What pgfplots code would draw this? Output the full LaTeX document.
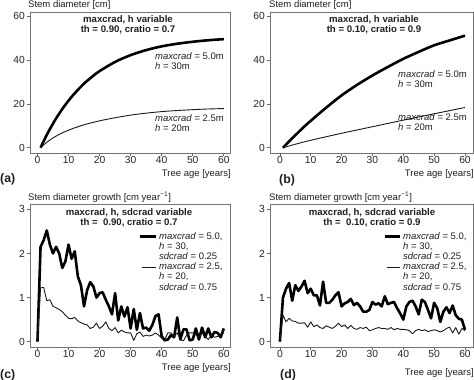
\documentclass[border=0pt]{standalone}
\usepackage{fontspec}
\setmainfont{Liberation Sans}
\usepackage{pgfplots}
\pgfplotsset{compat=1.18}
\tikzset{
  thick line/.style={black, line width=2.6pt, line join=round},
  thin line/.style={black!90, line width=0.9pt, line join=round},
}
\pgfplotsset{
  panel/.style={
    scale only axis, anchor=south west,
    axis line style={draw=black!55, line width=0.8pt},
    tick align=outside, major tick length=3pt,
    tick pos=left,
    every tick/.style={draw=black!60, line width=0.7pt},
    tick label style={font=\fontsize{10.3}{12}\selectfont, text=black!85, inner sep=1pt},
    /pgf/number format/assume math mode=true,
    xtick={0,10,...,60},
    xticklabel style={yshift=1pt},
    yticklabel style={xshift=-1pt},
  },
}
\newcommand{\lab}{\fontsize{9.5}{11}\selectfont}
\newcommand{\ttl}{\fontsize{9.6}{11}\selectfont\bfseries}
\begin{document}
\begin{tikzpicture}
\useasboundingbox (0pt,0pt) rectangle (474pt,380pt);
% ---------- (a)
\begin{axis}[panel, at={(30pt,227pt)}, width=200pt, height=141pt,
  xmin=-2.4, xmax=62, ymin=-2.4, ymax=62, ytick={0,20,40,60}]
\addplot[thick line, smooth] coordinates {(1,0) (2,3.0) (3,5.9) (4,8.5) (5,11.0) (6,13.4) (8,17.7) (10,21.5) (12,24.9) (15,29.3) (18,32.9) (20,35.0) (25,39.2) (30,42.3) (35,44.6) (40,46.3) (45,47.5) (50,48.4) (55,49.1) (60,49.6)};
\addplot[thin line, smooth] coordinates {(1,0) (2,1.3) (3,2.5) (4,3.5) (5,4.5) (6,5.3) (8,6.8) (10,8.0) (12,9.1) (15,10.5) (18,11.6) (20,12.3) (25,13.7) (30,14.9) (35,15.8) (40,16.5) (45,17.0) (50,17.4) (55,17.7) (60,17.9)};
\end{axis}
% ---------- (b)
\begin{axis}[panel, at={(270pt,227pt)}, width=203pt, height=141pt,
  xmin=-3.2, xmax=62.6, ymin=-2.4, ymax=62, ytick={0,20,40,60}]
\addplot[thick line, smooth] coordinates {(1,0) (3,2.9) (5,5.7) (8,9.8) (10,12.3) (15,18.3) (20,23.9) (25,28.7) (30,33.0) (35,36.9) (40,40.6) (45,43.8) (50,46.8) (55,49.0) (60,51.2)};
\addplot[thin line, smooth] coordinates {(1,0) (5,1.6) (10,3.4) (20,6.6) (30,9.6) (40,12.6) (50,15.5) (60,18.4)};
\end{axis}
% ---------- (c)
\begin{axis}[panel, at={(30pt,33pt)}, width=200pt, height=143pt,
  xmin=-2.4, xmax=62, ymin=-0.12, ymax=3.12, ytick={0,1,2,3}]
\addplot[thick line] coordinates {(0,0) (1,2.15) (2,2.3) (3,2.52) (4,2.2) (5,2.0) (6,2.15) (7,2.0) (8,1.67) (9,1.82) (10,2.2) (11,1.88) (12,2.05) (13,1.48) (14,1.28) (15,0.8) (16,1.17) (17,1.35) (18,1.25) (19,1.0) (20,1.1) (21,1.12) (22,0.95) (23,0.8) (24,0.62) (25,1.1) (26,0.48) (27,0.8) (28,0.57) (29,0.78) (30,0.3) (31,0.74) (32,0.27) (33,0.65) (34,0.3) (35,0.32) (36,0.25) (37,0.38) (38,0.58) (39,0.62) (40,0.12) (41,0.03) (42,0.05) (43,0.15) (44,0.1) (45,0.55) (46,0.05) (47,0.28) (48,0.28) (49,0.03) (50,0.05) (51,0.3) (52,0.05) (53,0.32) (54,0.1) (55,0.3) (56,0.1) (57,0.22) (58,0.2) (59,0.1) (60,0.3)};
\addplot[thin line] coordinates {(0,0) (1,1.22) (2,1.23) (3,0.93) (4,0.95) (5,0.8) (6,0.77) (7,0.73) (8,0.68) (9,0.6) (10,0.53) (11,0.52) (12,0.55) (13,0.47) (14,0.43) (15,0.4) (16,0.38) (17,0.3) (18,0.33) (19,0.42) (20,0.3) (21,0.35) (22,0.45) (23,0.3) (24,0.25) (25,0.32) (26,0.2) (27,0.26) (28,0.22) (29,0.2) (30,0.2) (31,0.03) (32,0.18) (33,0.22) (34,0.12) (35,0.15) (36,0.13) (37,0.15) (38,0.2) (39,0.15) (40,0.08) (41,0.05) (42,0.2) (43,0.2) (44,0.12) (45,0.2) (46,0.05) (47,0.02) (48,0.15) (49,0.2) (50,0.2) (51,0.15) (52,0.1) (53,0.2) (54,0.12) (55,0.05) (56,0.15) (57,0.1) (58,0.12) (59,0.15) (60,0.2)};
\end{axis}
% ---------- (d)
\begin{axis}[panel, at={(270pt,33pt)}, width=203pt, height=143pt,
  xmin=-3.2, xmax=62.6, ymin=-0.12, ymax=3.12, ytick={0,1,2,3}]
\addplot[thick line] coordinates {(0,0) (1,1.0) (2,1.2) (3,1.33) (4,0.93) (5,1.28) (6,1.15) (7,1.25) (8,1.38) (9,1.1) (10,1.2) (11,1.05) (12,1.05) (13,0.82) (14,1.36) (15,0.88) (16,0.88) (17,0.95) (18,1.05) (19,1.12) (20,0.8) (21,0.87) (22,0.9) (23,0.97) (24,0.83) (25,0.88) (26,0.8) (27,0.68) (28,0.68) (29,0.72) (30,0.9) (31,0.84) (32,0.87) (33,0.8) (34,1.03) (35,0.85) (36,0.88) (37,0.9) (38,0.76) (39,0.64) (40,0.5) (41,0.8) (42,0.9) (43,0.93) (44,0.8) (45,0.62) (46,0.95) (47,0.9) (48,0.72) (49,0.53) (50,0.88) (51,0.76) (52,0.45) (53,0.68) (54,0.78) (55,0.65) (56,0.82) (57,0.6) (58,0.52) (59,0.5) (60,0.27)};
\addplot[thin line] coordinates {(0,0) (1,0.6) (2,0.45) (3,0.53) (4,0.47) (5,0.46) (6,0.42) (7,0.42) (8,0.43) (9,0.33) (10,0.45) (11,0.34) (12,0.38) (13,0.32) (14,0.3) (15,0.36) (16,0.33) (17,0.3) (18,0.35) (19,0.42) (20,0.34) (21,0.38) (22,0.3) (23,0.37) (24,0.3) (25,0.28) (26,0.32) (27,0.3) (28,0.33) (29,0.25) (30,0.27) (31,0.3) (32,0.32) (33,0.3) (34,0.3) (35,0.28) (36,0.32) (37,0.27) (38,0.3) (39,0.28) (40,0.28) (41,0.27) (42,0.25) (43,0.18) (44,0.25) (45,0.28) (46,0.25) (47,0.27) (48,0.23) (49,0.25) (50,0.27) (51,0.25) (52,0.22) (53,0.25) (54,0.3) (55,0.33) (56,0.2) (57,0.32) (58,0.17) (59,0.3) (60,0.25)};
\end{axis}
% ---------- texts
\begin{scope}[every node/.style={inner sep=0pt, text=black!88}]
% axis labels
\node[anchor=west, font=\lab] at (28pt,375pt) {Stem diameter [cm]};
\node[anchor=west, font=\lab] at (269pt,375pt) {Stem diameter [cm]};
\node[anchor=west, font=\lab] at (28pt,183pt) {Stem diameter growth [cm year\textsuperscript{−1}]};
\node[anchor=west, font=\lab] at (269pt,183pt) {Stem diameter growth [cm year\textsuperscript{−1}]};
\node[anchor=east, font=\lab] at (231pt,205.5pt) {Tree age [years]};
\node[anchor=east, font=\lab] at (474pt,205.5pt) {Tree age [years]};
\node[anchor=east, font=\lab] at (231pt,12pt) {Tree age [years]};
\node[anchor=east, font=\lab] at (474pt,7pt) {Tree age [years]};
% panel letters
\node[anchor=west, font=\fontsize{12.3}{14}\selectfont\bfseries] at (0pt,201pt) {(a)};
\node[anchor=west, font=\fontsize{12.3}{14}\selectfont\bfseries] at (279pt,200pt) {(b)};
\node[anchor=west, font=\fontsize{12.3}{14}\selectfont\bfseries] at (0pt,5pt) {(c)};
\node[anchor=west, font=\fontsize{12.3}{14}\selectfont\bfseries] at (280pt,5pt) {(d)};
% titles
\node[font=\ttl] at (128pt,360pt) {maxcrad, h variable};
\node[font=\ttl] at (128pt,350pt) {th = 0.90, cratio = 0.7};
\node[font=\ttl] at (374pt,360pt) {maxcrad, h variable};
\node[font=\ttl] at (374pt,350pt) {th = 0.10, cratio = 0.9};
\node[font=\ttl] at (129pt,167pt) {maxcrad, h, sdcrad variable};
\node[font=\ttl] at (129pt,157pt) {th = \ 0.90, cratio = 0.7};
\node[font=\ttl] at (372pt,167pt) {maxcrad, h, sdcrad variable};
\node[font=\ttl] at (372pt,157pt) {th = \ 0.10, cratio = 0.9};
% annotations (a)
\node[anchor=west, font=\lab] at (155pt,324pt) {\textit{maxcrad} = 5.0m};
\node[anchor=west, font=\lab] at (155pt,314pt) {\textit{h} = 30m};
\node[anchor=west, font=\lab] at (155pt,262pt) {\textit{maxcrad} = 2.5m};
\node[anchor=west, font=\lab] at (155pt,252pt) {\textit{h} = 20m};
% annotations (b)
\node[anchor=west, font=\lab] at (398pt,306pt) {\textit{maxcrad} = 5.0m};
\node[anchor=west, font=\lab] at (398pt,296pt) {\textit{h} = 30m};
\node[anchor=west, font=\lab] at (398pt,263pt) {\textit{maxcrad} = 2.5m};
\node[anchor=west, font=\lab] at (398pt,253pt) {\textit{h} = 20m};
% legend (c)
\draw[thick line] (140pt,143.3pt) -- (156pt,143.3pt);
\draw[thin line] (142pt,113pt) -- (156pt,113pt);
\node[anchor=west, font=\lab] at (159pt,143.3pt) {\textit{maxcrad} = 5.0,};
\node[anchor=west, font=\lab] at (159pt,133.5pt) {\textit{h} = 30,};
\node[anchor=west, font=\lab] at (159pt,123.5pt) {\textit{sdcrad} = 0.25};
\node[anchor=west, font=\lab] at (159pt,113pt) {\textit{maxcrad} = 2.5,};
\node[anchor=west, font=\lab] at (159pt,103pt) {\textit{h} = 20,};
\node[anchor=west, font=\lab] at (159pt,93pt) {\textit{sdcrad} = 0.75};
% legend (d)
\draw[thick line] (385pt,143.3pt) -- (400pt,143.3pt);
\draw[thin line] (387pt,113pt) -- (400pt,113pt);
\node[anchor=west, font=\lab] at (403pt,143.3pt) {\textit{maxcrad} = 5.0,};
\node[anchor=west, font=\lab] at (403pt,133.5pt) {\textit{h} = 30,};
\node[anchor=west, font=\lab] at (403pt,123.5pt) {\textit{sdcrad} = 0.25};
\node[anchor=west, font=\lab] at (403pt,113pt) {\textit{maxcrad} = 2.5,};
\node[anchor=west, font=\lab] at (403pt,103pt) {\textit{h} = 20,};
\node[anchor=west, font=\lab] at (403pt,93pt) {\textit{sdcrad} = 0.75};
\end{scope}
\end{tikzpicture}
\end{document}
